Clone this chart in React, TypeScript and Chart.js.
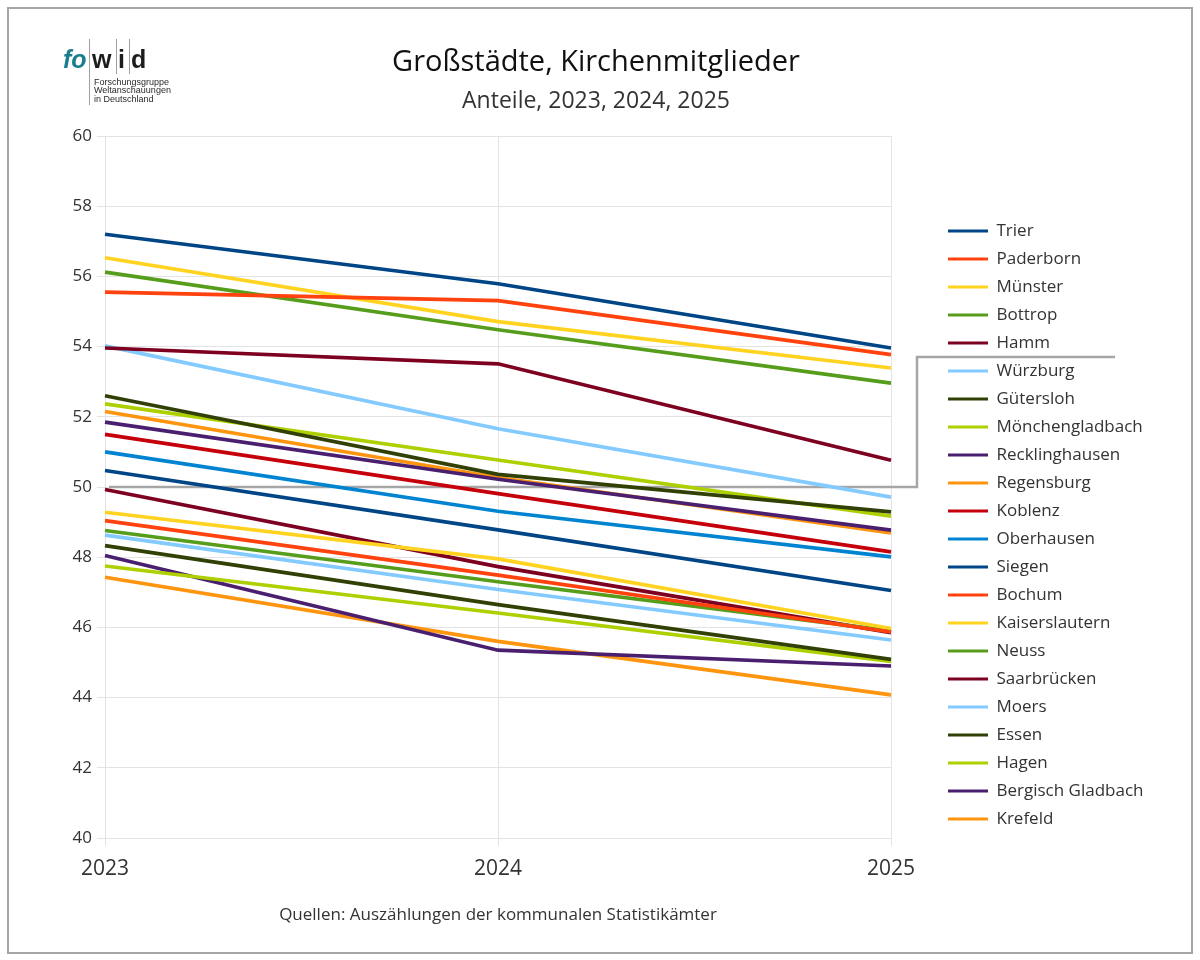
import { useRef, useEffect } from "react"
import { Chart, registerables } from "chart.js"

Chart.register(...registerables)

const YEARS = ["2023", "2024", "2025"]

const CITIES = [
  "Trier",
  "Paderborn",
  "Münster",
  "Bottrop",
  "Hamm",
  "Würzburg",
  "Gütersloh",
  "Mönchengladbach",
  "Recklinghausen",
  "Regensburg",
  "Koblenz",
  "Oberhausen",
  "Siegen",
  "Bochum",
  "Kaiserslautern",
  "Neuss",
  "Saarbrücken",
  "Moers",
  "Essen",
  "Hagen",
  "Bergisch Gladbach",
  "Krefeld",
]

// shares in %, same order as CITIES
const SHARE_2023 = [
  57.2, 55.55, 56.53, 56.12, 53.96, 54.02, 52.6, 52.37, 51.85, 52.15, 51.5,
  51.0, 50.47, 49.04, 49.28, 48.76, 49.93, 48.63, 48.33, 47.75, 48.05, 47.43,
]
const SHARE_2024 = [
  55.79, 55.31, 54.71, 54.48, 53.51, 51.66, 50.36, 50.77, 50.22, 50.27, 49.81,
  49.31, 48.78, 47.49, 47.95, 47.3, 47.73, 47.08, 46.65, 46.41, 45.35, 45.6,
]
const SHARE_2025 = [
  53.96, 53.77, 53.39, 52.96, 50.76, 49.71, 49.29, 49.17, 48.77, 48.69, 48.15,
  48.01, 47.05, 45.87, 45.97, 45.9, 45.85, 45.64, 45.09, 45.03, 44.9, 44.08,
]

const PALETTE = [
  "#004586", "#ff420e", "#ffd320", "#579d1c", "#7e0021", "#83caff",
  "#314004", "#aecf00", "#4b1f6f", "#ff950e", "#c5000b", "#0084d1",
]

const THRESHOLD = 50
const FONT = "'Open Sans', 'Noto Sans', sans-serif"

// move legend away from the plot and down; centre the headings on the page
const layoutTweaks = {
  id: "layoutTweaks",
  afterLayout(chart: any) {
    const lg = chart.legend
    if (lg) {
      lg.left += 46
      lg.right = lg.left + 240
      lg.width = 240
      lg.top += 75.5
      lg.bottom += 75.5
    }
    for (const box of chart.boxes) {
      if (box.position === "top" && box.fullSize) {
        const dx = 596 - (box.left + box.right) / 2
        box.left += dx
        box.right += dx
      }
    }
  },
}

// grey 50% line, bent up into the legend between Hamm and Würzburg
const thresholdLine = {
  id: "thresholdLine",
  beforeDatasetsDraw(chart: any) {
    const { ctx, chartArea, scales, legend } = chart
    const hb = legend?.legendHitBoxes
    if (!hb || hb.length < 6) return
    const y = scales.y.getPixelForValue(THRESHOLD)
    const x0 = scales.x.getPixelForValue(0) + 4
    const xv = chartArea.right + 26
    const yl = (hb[4].top + hb[5].top) / 2 + hb[4].height / 2
    const xe = legend.left + 178
    ctx.save()
    ctx.strokeStyle = "#a6a6a6"
    ctx.lineWidth = 2.5
    ctx.beginPath()
    ctx.moveTo(x0, y)
    ctx.lineTo(xv, y)
    ctx.lineTo(xv, yl)
    ctx.lineTo(xe, yl)
    ctx.stroke()
    ctx.restore()
  },
}

function Logo() {
  const big = {
    position: "absolute" as const,
    fontFamily: "'Liberation Sans', Arial, sans-serif",
    fontSize: 25,
    lineHeight: "25px",
    fontWeight: 700,
    top: 47,
  }
  const bar = { position: "absolute" as const, top: 39, width: 1, background: "#a0a0a0" }
  const small = {
    position: "absolute" as const,
    left: 94,
    fontFamily: "'Liberation Sans Narrow', 'Liberation Sans', sans-serif",
    fontSize: 9,
    lineHeight: "9px",
    color: "#2a2a2a",
    whiteSpace: "nowrap" as const,
  }
  return (
    <div style={{ position: "absolute", left: 0, top: 0 }}>
      <span style={{ ...big, left: 63, color: "#1b7e8c", fontStyle: "italic" }}>fo</span>
      <div style={{ ...bar, left: 89, height: 66 }} />
      <span style={{ ...big, left: 92, color: "#1d1d1d" }}>w</span>
      <div style={{ ...bar, left: 116, height: 35 }} />
      <span style={{ ...big, left: 118, color: "#1d1d1d" }}>i</span>
      <div style={{ ...bar, left: 129, height: 35 }} />
      <span style={{ ...big, left: 131, color: "#1d1d1d" }}>d</span>
      <div style={{ ...small, top: 78 }}>Forschungsgruppe</div>
      <div style={{ ...small, top: 86 }}>Weltanschauungen</div>
      <div style={{ ...small, top: 95 }}>in Deutschland</div>
    </div>
  )
}

function ShareChart() {
  const canvasRef = useRef<HTMLCanvasElement>(null)
  const chartRef = useRef<Chart | null>(null)

  useEffect(() => {
    if (!canvasRef.current) return
    if (chartRef.current) chartRef.current.destroy()

    const datasets = CITIES.map((city, i) => ({
      label: city,
      data: [SHARE_2023[i], SHARE_2024[i], SHARE_2025[i]],
      borderColor: PALETTE[i % PALETTE.length],
      backgroundColor: PALETTE[i % PALETTE.length],
      borderWidth: 3.7,
      pointRadius: 0,
      tension: 0,
      fill: false,
    }))

    chartRef.current = new Chart(canvasRef.current, {
      type: "line",
      data: { labels: YEARS, datasets },
      options: {
        responsive: false,
        animation: false,
        layout: { padding: { left: 55, right: 109, top: 0, bottom: 8 } },
        plugins: {
          title: {
            display: true,
            text: "Großstädte, Kirchenmitglieder",
            color: "#111",
            font: { family: FONT, size: 29, weight: "normal" },
            padding: { top: 45.6, bottom: 0 },
          },
          subtitle: {
            display: true,
            text: "Anteile, 2023, 2024, 2025",
            color: "#333",
            font: { family: FONT, size: 23, weight: "normal" },
            padding: { top: 7, bottom: 21 },
          },
          legend: {
            position: "right",
            align: "start",
            fullSize: false,
            maxWidth: 200,
            labels: {
              boxWidth: 40,
              boxHeight: 3,
              padding: 11,
              color: "#333",
              font: { family: FONT, size: 17 },
              generateLabels: (chart: any) =>
                chart.data.datasets.map((ds: any, i: number) => ({
                  text: ds.label,
                  fillStyle: ds.borderColor,
                  strokeStyle: ds.borderColor,
                  lineWidth: 0,
                  hidden: false,
                  datasetIndex: i,
                  fontColor: "#333",
                })),
            },
          },
          tooltip: { enabled: false },
        },
        scales: {
          x: {
            offset: false,
            grid: { color: "#e3e3e3", lineWidth: 1, tickLength: 8 },
            border: { color: "#e3e3e3" },
            ticks: { color: "#333", padding: 10, maxRotation: 0, font: { family: FONT, size: 21 } },
            title: {
              display: true,
              text: "Quellen: Auszählungen der kommunalen Statistikämter",
              color: "#333",
              font: { family: FONT, size: 17 },
              padding: { top: 0, bottom: 26.8 },
            },
            afterFit: (s: any) => {
              s.height = 114
            },
          },
          y: {
            min: 40,
            max: 60,
            grid: { color: "#e3e3e3", lineWidth: 1, tickLength: 8 },
            border: { color: "#e3e3e3" },
            ticks: { stepSize: 2, color: "#333", padding: 5, font: { family: FONT, size: 17 } },
            afterFit: (s: any) => {
              s.width = 50
            },
          },
        },
      },
      plugins: [layoutTweaks, thresholdLine],
    } as any)

    return () => {
      if (chartRef.current) chartRef.current.destroy()
      chartRef.current = null
    }
  }, [])

  return <canvas ref={canvasRef} width={1200} height={960} style={{ position: "absolute", left: 0, top: 0 }} />
}

export default function App() {
  useEffect(() => {
    document.body.style.margin = "0"
  }, [])

  return (
    <div style={{ position: "relative", width: 1200, height: 960, background: "#fff", overflow: "hidden" }}>
      <ShareChart />
      <Logo />
      <div
        style={{
          position: "absolute",
          left: 7,
          top: 7,
          width: 1186,
          height: 947,
          border: "2px solid #a6a6a6",
          boxSizing: "border-box",
          pointerEvents: "none",
        }}
      />
    </div>
  )
}
